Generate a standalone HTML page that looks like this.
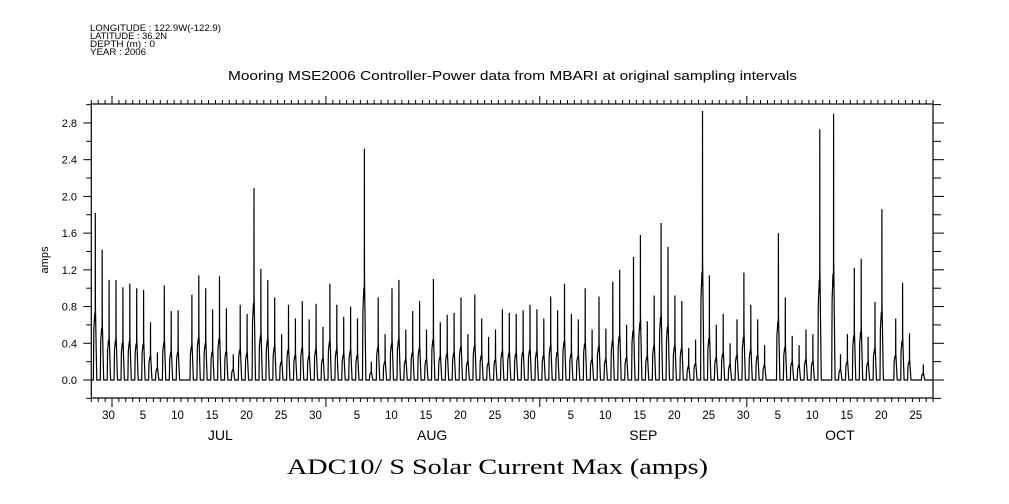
<!DOCTYPE html>
<html><head><meta charset="utf-8"><style>
body{margin:0;background:#fff;}
svg{display:block;font-family:"Liberation Sans",sans-serif;}
</style></head><body>
<svg id="chart" width="1009" height="504" viewBox="0 0 1009 504">
<g font-size="9" fill="#000">
<text x="90" y="31" textLength="131" lengthAdjust="spacingAndGlyphs">LONGITUDE : 122.9W(-122.9)</text>
<text x="90" y="39" textLength="77" lengthAdjust="spacingAndGlyphs">LATITUDE : 36.2N</text>
<text x="90" y="47" textLength="65" lengthAdjust="spacingAndGlyphs">DEPTH (m) : 0</text>
<text x="90" y="60" textLength="56" lengthAdjust="spacingAndGlyphs" transform="translate(0,-5)">YEAR : 2006</text>
</g>
<text x="228" y="80" font-size="12.5" textLength="569" lengthAdjust="spacingAndGlyphs">Mooring MSE2006 Controller-Power data from MBARI at original sampling intervals</text>
<text x="287" y="474" font-size="22" textLength="421" lengthAdjust="spacingAndGlyphs" font-family="Liberation Serif,serif">ADC10/ S Solar Current Max (amps)</text>
<text transform="translate(48,260) rotate(-90)" font-size="11" text-anchor="middle">amps</text>
<g id="axes"></g>
<g id="marks"></g>
</svg>
<script>
const peaks = [1.82,1.42,1.09,1.09,1.01,1.05,1.0,0.98,0.63,0.3,1.03,0.75,0.76,0,0.93,1.14,1.0,0.77,1.13,0.78,0.28,0.82,0.72,2.09,1.21,1.09,0.9,0.5,0.82,0.67,0.86,0.66,0.83,0.58,1.05,0.82,0.69,0.8,0.67,2.52,0.2,0.9,0.5,1.0,1.09,0.55,0.75,0.86,0.55,1.1,0.63,0.71,0.73,0.9,0.5,0.93,0.67,0.47,0.55,0.77,0.73,0.72,0.76,0.82,0.77,0.67,0.91,0.76,1.05,0.72,0.66,1.0,0.55,0.91,0.56,1.07,1.2,0.6,1.34,1.58,0.64,0.92,1.71,1.45,0.92,0.86,0.35,0.44,2.93,1.14,0.6,0.72,0.4,0.66,1.17,0.82,0.66,0.38,0,1.6,0.9,0.48,0.38,0.55,0.5,2.73,0,2.9,0.28,0.5,1.22,1.32,0.47,0.85,1.86,0,0.67,1.06,0.51,0,0.17,0];
const yTicks = [0.0,0.4,0.8,1.2,1.6,2.0,2.4,2.8];
const yTickLabels = ["0.0","0.4","0.8","1.2","1.6","2.0","2.4","2.8"];
const dayLabels = [2,7,12,17,22,27,32,38,43,48,53,58,63,69,74,79,84,89,94,99,104,109,114,119];
const dayLabelText = ["30","5","10","15","20","25","30","5","10","15","20","25","30","5","10","15","20","25","30","5","10","15","20","25"];
const monthStarts = [3,34,65,95];
const monthNames = ["JUL","AUG","SEP","OCT"];
const monthLabelDays = [18.7,49.4,80,108.5];

const L=91.3,R=933,T=104,B=398,DAYW=6.9;
const X=d=>L+d*DAYW;
const Y=v=>380-v*91.8;
const NS="http://www.w3.org/2000/svg";
const ax=document.getElementById('axes'), mk=document.getElementById('marks');
function mkEl(t,a,p){const e=document.createElementNS(NS,t);for(const k in a)e.setAttribute(k,a[k]);p.appendChild(e);return e;}

const frame=mkEl('rect',{x:L,y:T,width:R-L,height:B-T,fill:'none',stroke:'#000','stroke-width':1.2},ax);



for(let v=-0.2;v<=3.001;v+=0.2){
  const major=yTicks.some(t=>Math.abs(t-v)<1e-6);
  const y=Y(v);
  const t1=mkEl('line',{x1:L-(major?8:5),x2:L,y1:y,y2:y,stroke:'#000'},ax);
  
  
  const t2=mkEl('line',{x1:R,x2:R+(major?11:8),y1:y,y2:y,stroke:'#000'},ax);
  
  
}
yTicks.forEach((v,i)=>{
  const t=mkEl('text',{x:77,y:Y(v)+4,'font-size':11,'text-anchor':'end'},ax);
  t.textContent=yTickLabels[i];
  
  
});
for(let d=0;d<=122;d++){
  const x=X(d);
  const m=monthStarts.includes(d);
  const a=mkEl('line',{x1:x,x2:x,y1:T,y2:T-(m?8:4),stroke:'#000'},ax);
  
  
  const b=mkEl('line',{x1:x,x2:x,y1:B,y2:B+(m?9:4),stroke:'#000'},ax);
  
  
}
dayLabelText.forEach((s,i)=>{
  const t=mkEl('text',{x:X(dayLabels[i])+3.4,y:419,'font-size':11.5,'text-anchor':'middle'},ax);
  t.textContent=s;
  
  
});
monthNames.forEach((s,i)=>{
  const t=mkEl('text',{x:X(monthLabelDays[i]),y:440,'font-size':14,'text-anchor':'middle'},ax);
  t.textContent=s;
  
  
});

let pts=[];
peaks.forEach((p,i)=>{
  const shape=p>0?[[0,0],[0.3,0],[0.36,0.3],[0.5,0.4],[0.57,0.35],[0.58,1],[0.6,0.45],[0.72,0.15],[0.8,0]]:[[0,0]];
  shape.forEach(s=>pts.push(X(i+s[0]).toFixed(1)+','+Y(p*s[1]).toFixed(1)));
});
pts.push(X(peaks.length).toFixed(1)+','+Y(0).toFixed(1));
const line=mkEl('polyline',{points:pts.join(' '),fill:'none',stroke:'#000','stroke-width':1.2},mk);


</script>
</body></html>
